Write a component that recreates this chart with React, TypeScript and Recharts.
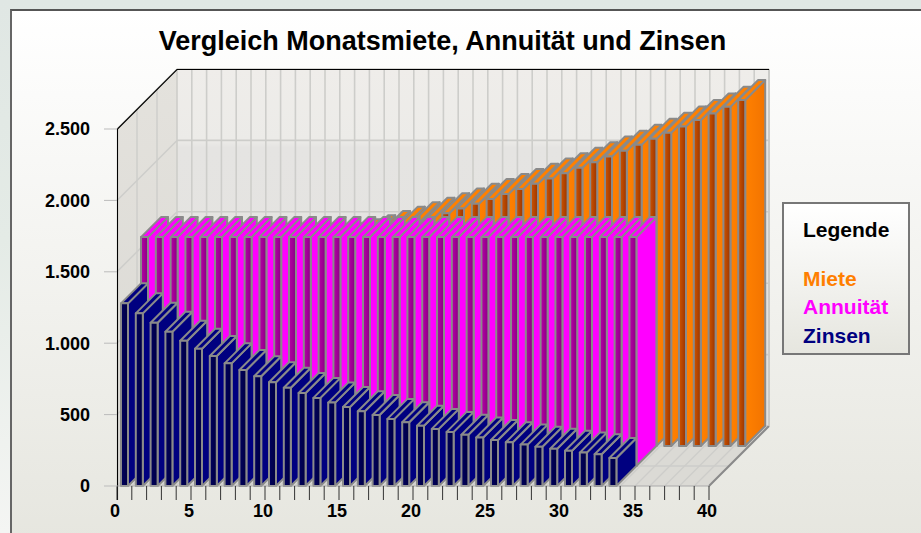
import React from 'react';
import { ComposedChart, Bar, XAxis, YAxis, Legend, Customized } from 'recharts';

const years = [0.5,1.5,2.5,3.5,4.5,5.5,6.5,7.5,8.5,9.5,10.5,11.5,12.5,13.5,14.5,15.5,16.5,17.5,18.5,19.5,20.5,21.5,22.5,23.5,24.5,25.5,26.5,27.5,28.5,29.5,30.5,31.5,32.5,33.5,34.5,35.5,36.5,37.5,38.5,39.5];
const miete = [1119,1141,1164,1187,1211,1235,1260,1285,1311,1337,1364,1391,1419,1447,1476,1506,1536,1567,1598,1630,1663,1696,1730,1765,1800,1836,1873,1910,1948,1987,2027,2068,2109,2151,2194,2238,2283,2329,2375,2423];
const annuitaet = [1603,1603,1603,1603,1603,1603,1603,1603,1603,1603,1603,1603,1603,1603,1603,1603,1603,1603,1603,1603,1603,1603,1603,1603,1603,1603,1603,1603,1603,1603,1603,1603,1603,1603];
const zinsen = [1279,1209,1143,1080,1017,961,910,859,812,768,726,688,651,617,584,553,524,497,470,446,422,400,379,359,340,322,306,290,275,261,247,234,222,196];
const xTicks = [0,1,2,3,4,5,6,7,8,9,10,11,12,13,14,15,16,17,18,19,20,21,22,23,24,25,26,27,28,29,30,31,32,33,34,35,36,37,38,39,40];
const yTicks = [0,500,1000,1500,2000,2500];

const data = years.map((x, i) => ({ x, Miete: miete[i], 'Annuität': annuitaet[i], Zinsen: zinsen[i] }));

const W = 921, H = 533;
const L = 117, R = 709, T = 129, B = 486;
const ROW = 20, DEPTH = 60;
const FONT = '"Liberation Sans", Arial, sans-serif';
const EDGE = '#8a8a8a';

const sx = (v: number) => L + ((R - L) * v) / 40;
const sy = (v: number) => B - ((B - T) * v) / 2500;

function Walls() {
  const grid = '#cdcdca';
  return (
    <g>
      <defs>
        <linearGradient id="backWall" x1="0" y1="0" x2="0" y2="1">
          <stop offset="0" stopColor="#efedea" />
          <stop offset="0.2" stopColor="#ecebe8" />
          <stop offset="0.22" stopColor="#e5e4e2" />
          <stop offset="1" stopColor="#e3e2de" />
        </linearGradient>
        <linearGradient id="sideWall" x1="0" y1="0" x2="0" y2="1">
          <stop offset="0" stopColor="#e4e2dd" />
          <stop offset="1" stopColor="#d9d8d3" />
        </linearGradient>
        <linearGradient id="frontZinsen" x1="0" y1="0" x2="1" y2="0">
          <stop offset="0" stopColor="#000060" />
          <stop offset="1" stopColor="#000040" />
        </linearGradient>
        <linearGradient id="frontAnnuit" x1="0" y1="0" x2="1" y2="0">
          <stop offset="0" stopColor="#b800a8" />
          <stop offset="1" stopColor="#880080" />
        </linearGradient>
        <linearGradient id="frontMiete" x1="0" y1="0" x2="1" y2="0">
          <stop offset="0" stopColor="#d05400" />
          <stop offset="1" stopColor="#983400" />
        </linearGradient>
        <linearGradient id="sideMiete" x1="0" y1="0" x2="1" y2="0">
          <stop offset="0" stopColor="#ff8000" />
          <stop offset="1" stopColor="#f27400" />
        </linearGradient>
      </defs>
      <polygon points={`${L + DEPTH},${T - DEPTH} ${R + DEPTH},${T - DEPTH} ${R + DEPTH},${B - DEPTH} ${L + DEPTH},${B - DEPTH}`} fill="url(#backWall)" />
      <polygon points={`${L},${T} ${L + DEPTH},${T - DEPTH} ${L + DEPTH},${B - DEPTH} ${L},${B}`} fill="url(#sideWall)" />
      <polygon points={`${L},${B} ${L + DEPTH},${B - DEPTH} ${R + DEPTH},${B - DEPTH} ${R},${B}`} fill="#dbdad5" />
      {xTicks.map((t) => (
        <g key={t}>
          <line x1={sx(t) + DEPTH} y1={T - DEPTH} x2={sx(t) + DEPTH} y2={B - DEPTH} stroke={grid} strokeWidth={1.6} />
          <line x1={sx(t)} y1={B} x2={sx(t) + DEPTH} y2={B - DEPTH} stroke={grid} strokeWidth={1.2} />
        </g>
      ))}
      {yTicks.map((t) => (
        <g key={t}>
          <line x1={L} y1={sy(t)} x2={L + DEPTH} y2={sy(t) - DEPTH} stroke={grid} strokeWidth={1.4} />
          <line x1={L + DEPTH} y1={sy(t) - DEPTH} x2={R + DEPTH} y2={sy(t) - DEPTH} stroke={grid} strokeWidth={1.6} />
        </g>
      ))}
      {[1, 2].map((k) => (
        <g key={k}>
          <line x1={L + k * ROW} y1={T - k * ROW} x2={L + k * ROW} y2={B - k * ROW} stroke={grid} strokeWidth={1.4} />
          <line x1={L + k * ROW} y1={B - k * ROW} x2={R + k * ROW} y2={B - k * ROW} stroke={grid} strokeWidth={1.4} />
        </g>
      ))}
      <line x1={R} y1={B} x2={R + DEPTH} y2={B - DEPTH} stroke={EDGE} strokeWidth={2} />
      <line x1={R + DEPTH} y1={B - DEPTH} x2={R + DEPTH} y2={T - DEPTH} stroke="#c9c9c6" strokeWidth={1.5} />
      <polyline points={`${L + 0.5},${T} ${L + DEPTH},${T - DEPTH + 0.5} ${R + DEPTH},${T - DEPTH + 0.5}`} fill="none" stroke="#000" strokeWidth={1.1} />
      <line x1={L + 0.5} y1={T} x2={L + 0.5} y2={B + 14} stroke="#000" strokeWidth={1.1} />
      <text x={442.5} y={50} textAnchor="middle" fontFamily={FONT} fontWeight="bold" fontSize={27} fill="#000">
        Vergleich Monatsmiete, Annuität und Zinsen
      </text>
    </g>
  );
}

function bar3d(row: number, side: string, top: string, front: string) {
  return (p: any) => {
    const { x, y, width, height } = p;
    if (!height || height <= 0 || !isFinite(y)) return <g />;
    const off = row * ROW;
    const x0 = x + off + 1;
    const x1 = x + width + off;
    const yt = y - off;
    const yb = y + height - off;
    return (
      <g stroke={EDGE} strokeWidth={2} strokeLinejoin="round">
        <polygon points={`${x1},${yt} ${x1 + ROW},${yt - ROW} ${x1 + ROW},${yb - ROW} ${x1},${yb}`} fill={side} />
        <polygon points={`${x0},${yt} ${x0 + ROW},${yt - ROW} ${x1 + ROW},${yt - ROW} ${x1},${yt}`} fill={top} />
        <rect x={x0} y={yt} width={x1 - x0} height={yb - yt} fill={front} />
      </g>
    );
  };
}

function LegendBox({ payload }: any) {
  return (
    <div
      style={{
        boxSizing: 'border-box', width: 128, height: 153, border: '2px solid #777',
        background: 'linear-gradient(#ffffff, #e6e6df)', fontFamily: FONT, fontWeight: 'bold',
        fontSize: 21, position: 'relative',
      }}
    >
      <div style={{ position: 'absolute', left: 19, top: 13.5, color: '#000', lineHeight: '23px' }}>Legende</div>
      {(payload || []).map((e: any, i: number) => (
        <div key={e.value} style={{ position: 'absolute', left: 19, top: 62.5 + i * 28.5, color: e.color, lineHeight: '23px' }}>
          {e.value}
        </div>
      ))}
    </div>
  );
}

export default function App() {
  return (
    <div style={{ position: 'absolute', left: 0, top: 0, width: W, height: H, overflow: 'hidden', background: 'linear-gradient(180deg,#e0e7e4 0%,#e4ebe6 45%,#f4f5f3 100%)' }}>
      <div style={{ position: 'absolute', left: 10, top: 8.5, width: W, height: H, boxSizing: 'border-box', borderLeft: '2px solid #666', borderTop: '2px solid #555', background: 'linear-gradient(#ffffff 0%, #e6e6df 100%)' }} />
      <div style={{ position: 'absolute', left: 0, top: 0 }}>
        <ComposedChart
          width={W}
          height={H}
          data={data}
          margin={{ top: T, right: W - R, bottom: 17, left: 17 }}
          barSize={8}
          barGap={-8}
        >
          <Customized component={<Walls />} />
          <XAxis
            dataKey="x"
            type="number"
            domain={[0, 40]}
            ticks={xTicks}
            interval={0}
            height={30}
            tickSize={14}
            tickMargin={4}
            axisLine={{ stroke: '#aaa' }}
            tickLine={{ stroke: '#333' }}
            tickFormatter={(v: number) => (v % 5 === 0 ? String(v) : '')}
            tick={{ fill: '#000', fontFamily: FONT, fontWeight: 'bold', fontSize: 18, dx: -2 }}
          />
          <YAxis
            type="number"
            domain={[0, 2500]}
            ticks={yTicks}
            interval={0}
            width={100}
            tickSize={13}
            tickMargin={14}
            axisLine={false}
            tickLine={{ stroke: '#bbb' }}
            tickFormatter={(v: number) => v.toLocaleString('de-DE')}
            tick={{ fill: '#000', fontFamily: FONT, fontWeight: 'bold', fontSize: 18 }}
          />
          <Legend
            layout="vertical"
            align="center"
            verticalAlign="middle"
            itemSorter={null as any}
            wrapperStyle={{ left: 782, top: 202, width: 128, right: 'auto', bottom: 'auto' }}
            content={<LegendBox />}
          />
          <Bar dataKey="Miete" name="Miete" fill="#ff7f00" isAnimationActive={false} shape={bar3d(2, 'url(#sideMiete)', '#ff8000', 'url(#frontMiete)')} />
          <Bar dataKey="Annuität" name="Annuität" fill="#ff00ff" isAnimationActive={false} shape={bar3d(1, '#ff00ff', '#ff00ff', 'url(#frontAnnuit)')} />
          <Bar dataKey="Zinsen" name="Zinsen" fill="#000080" isAnimationActive={false} shape={bar3d(0, '#000080', '#000080', 'url(#frontZinsen)')} />
        </ComposedChart>
      </div>
    </div>
  );
}
